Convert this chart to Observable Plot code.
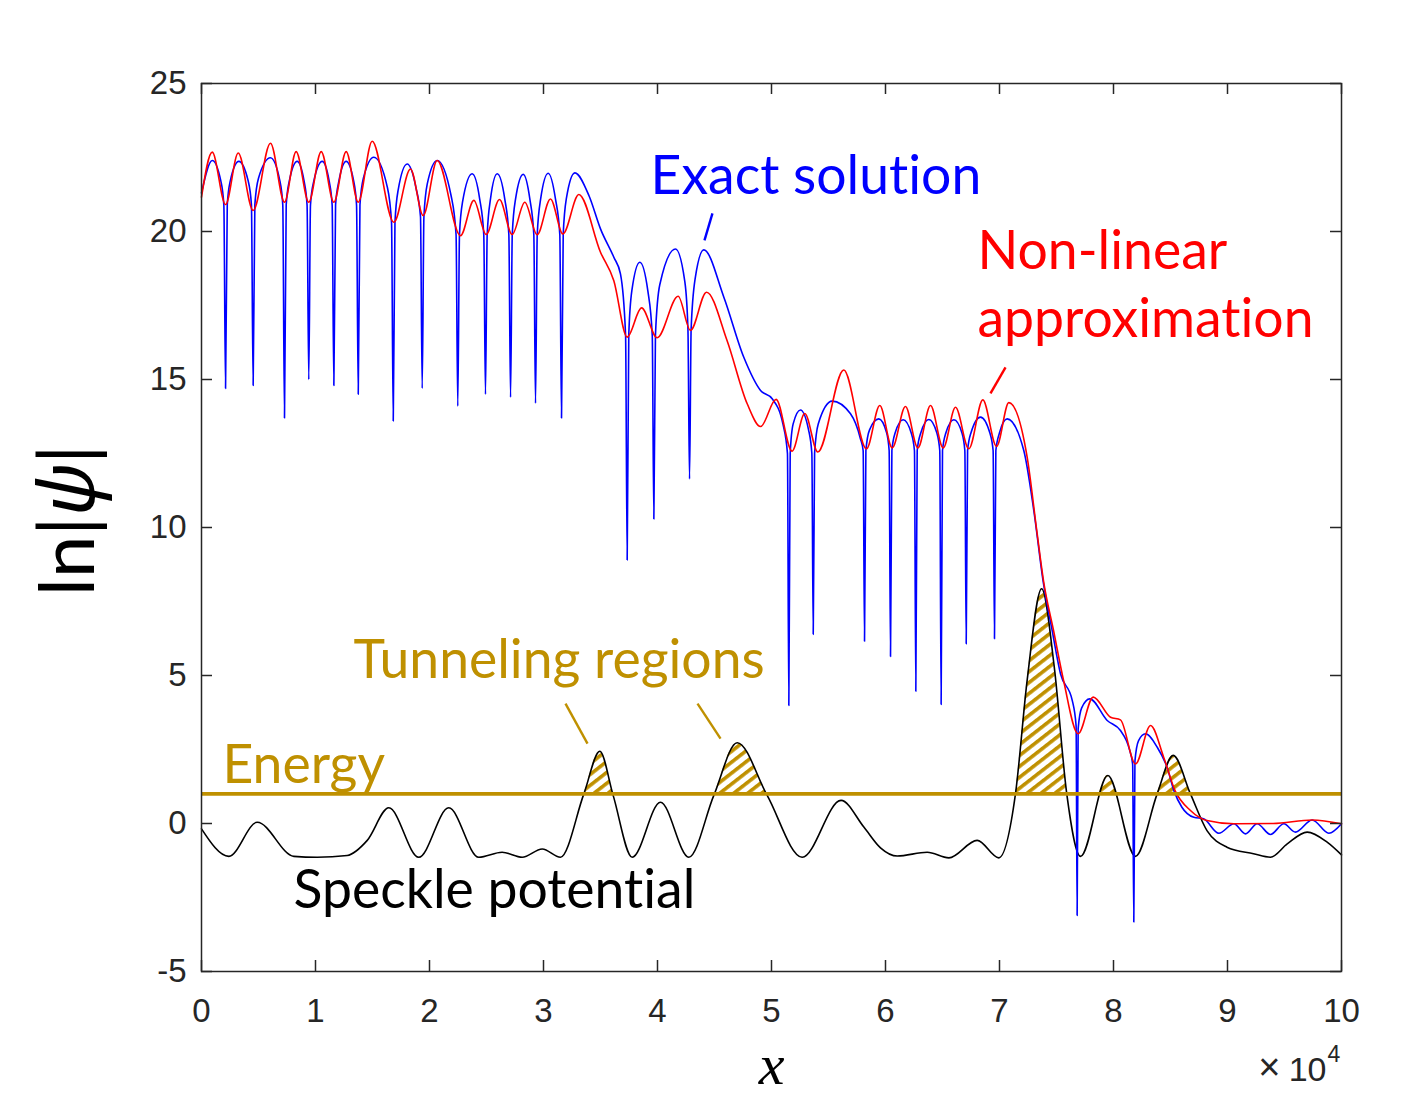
<!DOCTYPE html>
<html>
<head>
<meta charset="utf-8">
<script src="https://cdn.jsdelivr.net/npm/d3@7"></script>
<script src="https://cdn.jsdelivr.net/npm/@observablehq/plot@0.6"></script>
<style>
  html, body { margin: 0; padding: 0; background: #fff; }
  svg { display: block; }
  svg text { font-variant-ligatures: none; font-feature-settings: "liga" 0, "clig" 0; }
</style>
</head>
<body>
<div id="chart"></div>
<script>
// x in units of 10^4, y = ln|psi|

// Exact solution: lobes with sharp nodes (x, ln|psi|)
const exactSolution = [
  [0.000, 21.3], [0.094, 22.40], [0.170, 21.7], [0.196, 20.9], [0.211, 14.7], [0.226, 20.9], [0.252, 21.7],
  [0.327, 22.37], [0.410, 21.7], [0.438, 20.9], [0.453, 14.8], [0.468, 20.9], [0.500, 21.8],
  [0.605, 22.49], [0.688, 21.7], [0.713, 20.9], [0.728, 13.7], [0.743, 20.9], [0.770, 21.7],
  [0.839, 22.37], [0.900, 21.7], [0.926, 20.9], [0.941, 15.0], [0.956, 20.9], [0.985, 21.7],
  [1.059, 22.37], [1.120, 21.7], [1.146, 20.9], [1.161, 14.8], [1.176, 20.9], [1.205, 21.7],
  [1.269, 22.37], [1.335, 21.7], [1.360, 20.9], [1.375, 14.5], [1.390, 20.9], [1.420, 21.8],
  [1.512, 22.51], [1.630, 21.5], [1.667, 20.3], [1.682, 13.6], [1.697, 20.3], [1.725, 21.4],
  [1.804, 22.28], [1.880, 21.5], [1.921, 20.5], [1.936, 14.7], [1.951, 20.5], [1.980, 21.6],
  [2.067, 22.40], [2.190, 21.2], [2.233, 19.9], [2.248, 14.1], [2.263, 19.9], [2.290, 21.0],
  [2.374, 21.95], [2.440, 21.1], [2.476, 19.9], [2.491, 14.5], [2.506, 19.9], [2.535, 21.1],
  [2.594, 21.95], [2.660, 21.1], [2.696, 19.9], [2.711, 14.4], [2.726, 19.9], [2.755, 21.1],
  [2.822, 21.93], [2.880, 21.1], [2.915, 19.9], [2.930, 14.2], [2.945, 19.9], [2.975, 21.1],
  [3.041, 21.97], [3.105, 21.1], [3.143, 19.9], [3.158, 13.7], [3.173, 19.9], [3.200, 21.1],
  [3.275, 21.98], [3.400, 21.2], [3.500, 20.09], [3.617, 19.13], [3.675, 18.57],
  [3.720, 16.5], [3.734, 8.9], [3.748, 16.5], [3.775, 18.0],
  [3.845, 18.96], [3.915, 18.0], [3.954, 16.5], [3.968, 10.29], [3.982, 16.5], [4.020, 18.2],
  [4.158, 19.41], [4.240, 18.3], [4.267, 16.7], [4.281, 11.64], [4.295, 16.7], [4.330, 18.4],
  [4.406, 19.38], [4.582, 17.78], [4.757, 15.75], [4.904, 14.63], [5.006, 14.35],
  [5.100, 13.5], [5.140, 12.5], [5.152, 3.99], [5.164, 12.5], [5.190, 13.5],
  [5.254, 13.97], [5.325, 13.3], [5.354, 12.5], [5.366, 6.39], [5.378, 12.5], [5.410, 13.5],
  [5.532, 14.27], [5.693, 13.84], [5.780, 13.0], [5.804, 12.6], [5.816, 6.16], [5.828, 12.6], [5.860, 13.3],
  [5.941, 13.67], [6.010, 13.2], [6.032, 12.6], [6.044, 5.64], [6.056, 12.6], [6.085, 13.2],
  [6.155, 13.64], [6.225, 13.2], [6.254, 12.6], [6.266, 4.47], [6.278, 12.6], [6.310, 13.2],
  [6.380, 13.65], [6.450, 13.2], [6.476, 12.6], [6.488, 4.02], [6.500, 12.6], [6.530, 13.2],
  [6.600, 13.64], [6.670, 13.2], [6.696, 12.6], [6.708, 6.07], [6.720, 12.6], [6.750, 13.2],
  [6.833, 13.73], [6.915, 13.2], [6.944, 12.6], [6.956, 6.24], [6.968, 12.6], [7.000, 13.2],
  [7.067, 13.67], [7.213, 12.6], [7.301, 10.57], [7.386, 8.1], [7.462, 6.52], [7.535, 5.06],
  [7.638, 4.16], [7.672, 3.3], [7.681, -3.11], [7.690, 3.2], [7.720, 3.9],
  [7.792, 4.21], [7.945, 3.48], [8.061, 3.14], [8.140, 2.5], [8.168, 2.0], [8.178, -3.33], [8.188, 2.1], [8.220, 2.8],
  [8.281, 3.03], [8.383, 2.58], [8.470, 1.90], [8.530, 1.11], [8.600, 0.55], [8.705, 0.21], [8.790, 0.16],
  [8.924, -0.33], [9.056, -0.01], [9.158, -0.35], [9.260, -0.01], [9.377, -0.37], [9.494, -0.01],
  [9.596, -0.29], [9.743, 0.12], [9.889, -0.33], [10.000, -0.01]
];

// Non-linear approximation
const nonLinear = [
  [0.000, 21.16], [0.094, 22.68], [0.211, 20.91], [0.322, 22.65], [0.453, 20.71], [0.605, 22.98],
  [0.728, 20.99], [0.830, 22.70], [0.941, 20.99], [1.050, 22.70], [1.161, 20.99], [1.269, 22.70],
  [1.375, 20.99], [1.497, 23.05], [1.687, 20.31], [1.833, 22.11], [1.945, 20.54], [2.067, 22.40],
  [2.272, 19.86], [2.389, 21.05], [2.497, 19.90], [2.614, 21.08], [2.725, 19.90], [2.836, 20.99],
  [2.944, 19.89], [3.061, 21.10], [3.170, 19.92], [3.310, 21.25], [3.500, 19.30], [3.617, 18.34],
  [3.734, 16.43], [3.860, 17.42], [3.997, 16.41], [4.181, 17.81], [4.289, 16.66], [4.430, 17.95],
  [4.610, 16.32], [4.787, 14.18], [4.904, 13.41], [5.040, 14.33], [5.180, 12.58], [5.292, 13.85],
  [5.406, 12.55], [5.634, 15.32], [5.833, 12.66], [5.950, 14.12], [6.059, 12.69], [6.175, 14.09],
  [6.284, 12.69], [6.395, 14.12], [6.506, 12.69], [6.614, 14.06], [6.731, 12.66], [6.854, 14.31],
  [6.974, 12.74], [7.082, 14.22], [7.243, 12.37], [7.330, 9.8], [7.386, 8.2], [7.474, 6.52],
  [7.562, 4.83], [7.690, 3.03], [7.822, 4.27], [7.974, 3.59], [8.061, 3.50], [8.193, 2.01],
  [8.325, 3.31], [8.440, 2.24], [8.540, 1.11], [8.675, 0.44], [8.820, 0.10], [9.056, -0.01],
  [9.400, 0.00], [9.743, 0.12], [10.000, -0.01]
];

// Speckle potential
const speckle = [
  [0.000, -0.18], [0.240, -1.11], [0.489, 0.04], [0.810, -1.11], [1.015, -1.14], [1.278, -1.08],
  [1.454, -0.57], [1.643, 0.53], [1.906, -1.14], [2.169, 0.53], [2.432, -1.14], [2.637, -0.97],
  [2.813, -1.14], [2.989, -0.86], [3.149, -1.14], [3.354, 1.00], [3.494, 2.44], [3.611, 0.95],
  [3.778, -1.14], [4.026, 0.72], [4.275, -1.14], [4.494, 0.95], [4.699, 2.73], [4.962, 0.95],
  [5.269, -1.14], [5.610, 0.78], [5.810, -0.12], [5.956, -0.82], [6.103, -1.10], [6.366, -0.97],
  [6.556, -1.16], [6.804, -0.57], [6.994, -1.16], [7.140, 1.00], [7.243, 4.85], [7.370, 7.93],
  [7.480, 5.30], [7.590, 1.00], [7.711, -1.11], [7.950, 1.62], [8.193, -1.11], [8.383, 1.00],
  [8.524, 2.30], [8.675, 1.00], [8.820, -0.24], [8.995, -0.80], [9.228, -1.02], [9.377, -1.14],
  [9.524, -0.69], [9.699, -0.29], [9.874, -0.63], [10.000, -1.06]
];

const energy = 1;

const xTicks = [0, 1, 2, 3, 4, 5, 6, 7, 8, 9, 10];
const yTicks = [-5, 0, 5, 10, 15, 20, 25];

// Annotation texts, anchored at the left end of their baseline (data units)
const annotations = [
  {text: "Exact solution", series: "exact", x: 3.939, y: 21.28},
  {text: "Non-linear", series: "approx", x: 6.807, y: 18.75},
  {text: "approximation", series: "approx", x: 6.807, y: 16.45},
  {text: "Tunneling regions", series: "gold", x: 1.333, y: 4.90},
  {text: "Energy", series: "gold", x: 0.184, y: 1.385},
  {text: "Speckle potential", series: "speckle", x: 0.807, y: -2.87}
];

// Leader lines from the texts to the curves
const pointers = [
  {series: "exact", x1: 4.482, y1: 20.61, x2: 4.412, y2: 19.70},
  {series: "approx", x1: 7.053, y1: 15.41, x2: 6.921, y2: 14.53},
  {series: "gold", x1: 3.193, y1: 4.05, x2: 3.386, y2: 2.70},
  {series: "gold", x1: 4.351, y1: 4.05, x2: 4.553, y2: 2.87}
];

const yLabel = "ln|ψ|";
const xLabel = "x";

const palette = {exact: "#0000ff", approx: "#ff0000", gold: "#bf9000", speckle: "#000000"};
const ink = "#262626";

const W = 1401, H = 1101;
const M = {top: 83, right: 60, bottom: 130, left: 201};
const frameW = W - M.left - M.right;
const frameH = H - M.top - M.bottom;
const tickLen = 11;

const px = d => d[0], py = d => d[1];
const labelFont = "Lato, Calibri, 'Open Sans', sans-serif";
const numFont = "'Liberation Sans', Arial, Helvetica, sans-serif";

const plot = Plot.plot({
  width: W,
  height: H,
  marginTop: M.top,
  marginRight: M.right,
  marginBottom: M.bottom,
  marginLeft: M.left,
  x: {domain: [0, 10]},
  y: {domain: [-5, 25]},
  color: {type: "identity"},
  style: {background: "#fff", color: ink, fontFamily: numFont, overflow: "visible"},
  marks: [
    // tunneling regions: between the energy level and the potential, hatched and clipped below
    Plot.areaY(speckle, {x: px, y1: () => energy, y2: py, curve: "monotone-x", fill: palette.gold}),
    Plot.line(speckle, {x: px, y: py, curve: "monotone-x", stroke: palette.speckle, strokeWidth: 1.6}),
    Plot.line(exactSolution, {x: px, y: py, curve: "monotone-x", stroke: palette.exact, strokeWidth: 1.6}),
    Plot.line(nonLinear, {x: px, y: py, curve: "monotone-x", stroke: palette.approx, strokeWidth: 1.6}),
    Plot.ruleY([energy], {stroke: palette.gold, strokeWidth: 3.6}),
    Plot.link(pointers, {x1: "x1", y1: "y1", x2: "x2", y2: "y2", stroke: d => palette[d.series], strokeWidth: 2.4}),
    Plot.text(annotations, {
      x: "x", y: "y", text: "text", fill: d => palette[d.series],
      textAnchor: "start", lineAnchor: "bottom", fontSize: 53.5, fontFamily: labelFont
    }),
    // box and inward ticks on all four sides
    Plot.frame({stroke: ink, strokeWidth: 1.5}),
    Plot.tickY(yTicks, {y: d => d, insetRight: frameW - tickLen, stroke: ink, strokeWidth: 1.5}),
    Plot.tickY(yTicks, {y: d => d, insetLeft: frameW - tickLen, stroke: ink, strokeWidth: 1.5}),
    Plot.tickX(xTicks, {x: d => d, insetBottom: frameH - tickLen, stroke: ink, strokeWidth: 1.5}),
    Plot.tickX(xTicks, {x: d => d, insetTop: frameH - tickLen, stroke: ink, strokeWidth: 1.5}),
    Plot.axisX(xTicks, {tickSize: 0, tickPadding: 27, fontSize: 33, label: null, tickFormat: d => String(d), fill: ink}),
    Plot.axisY(yTicks, {tickSize: 0, tickPadding: 15, fontSize: 33, label: null, tickFormat: d => String(d), fill: ink}),
    // axis titles
    Plot.text([yLabel], {
      text: d => d, frameAnchor: "left", y: () => 10.24, dx: -108, rotate: -90,
      textAnchor: "middle", lineAnchor: "bottom", fontSize: 76, fontFamily: labelFont, fill: "#000"
    }),
    Plot.text([xLabel], {
      text: d => d, frameAnchor: "bottom", x: () => 5, dy: 112, textAnchor: "middle", lineAnchor: "bottom",
      fontSize: 58, fontFamily: "'Liberation Serif', 'Times New Roman', serif", fontStyle: "italic", fill: "#000"
    }),
    // x multiplier
    Plot.text(["×"], {
      text: d => d, frameAnchor: "bottom", x: () => 10, dx: -61, dy: 108, textAnchor: "end", lineAnchor: "bottom",
      fontSize: 38, fill: ink
    }),
    Plot.text(["10"], {
      text: d => d, frameAnchor: "bottom", x: () => 10, dx: -15, dy: 109, textAnchor: "end", lineAnchor: "bottom",
      fontSize: 34, fill: ink
    }),
    Plot.text(["4"], {
      text: d => d, frameAnchor: "bottom", x: () => 10, dx: -14, dy: 90, textAnchor: "start", lineAnchor: "bottom",
      fontSize: 23, fill: ink
    })
  ]
});

// hatch pattern and the clip that keeps it above the energy level
const svg = d3.select(plot);
const defs = svg.insert("defs", ":first-child");
const hatch = defs.append("pattern")
  .attr("id", "hatch")
  .attr("patternUnits", "userSpaceOnUse")
  .attr("width", 8.6)
  .attr("height", 8.6)
  .attr("patternTransform", "rotate(52)");
hatch.append("rect").attr("x", 0).attr("y", 0).attr("width", 3.6).attr("height", 8.6).attr("fill", palette.gold);

const yEnergy = plot.scale("y").apply(energy);
defs.append("clipPath").attr("id", "above-energy")
  .append("rect").attr("x", 0).attr("y", 0).attr("width", W).attr("height", yEnergy);
const tunnel = svg.select('g[aria-label="area"]');
tunnel.attr("clip-path", "url(#above-energy)").attr("fill", "url(#hatch)");
tunnel.selectAll("path").attr("fill", "url(#hatch)");

// italic psi inside the y-axis title
svg.selectAll("text").filter(function () { return this.textContent === yLabel; }).each(function () {
  const t = d3.select(this);
  t.text(null);
  t.append("tspan").text("ln|");
  t.append("tspan").text("ψ").attr("font-style", "italic").attr("font-family", "'Noto Sans', 'DejaVu Sans', sans-serif");
  t.append("tspan").text("|");
});

document.getElementById("chart").appendChild(plot);
</script>
</body>
</html>
